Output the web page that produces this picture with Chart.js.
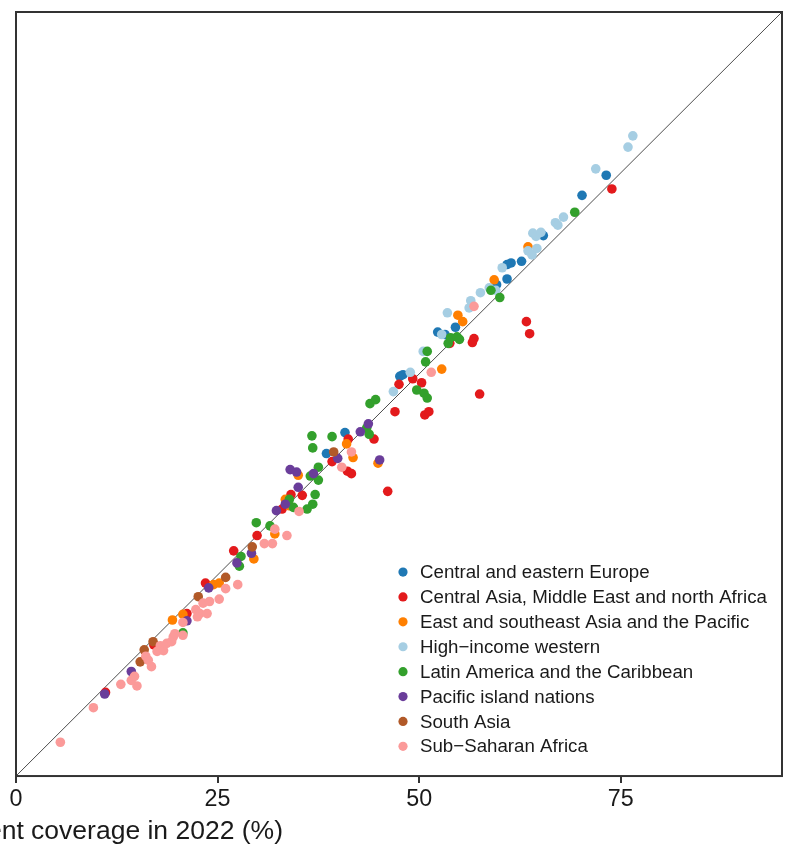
<!DOCTYPE html>
<html>
<head>
<meta charset="utf-8">
<style>
    html, body { margin: 0; padding: 0; background: #fff; }
    #wrap { position: relative; width: 800px; height: 847px; overflow: hidden; }
</style>
<script src="https://cdn.jsdelivr.net/npm/chart.js@4.4.1/dist/chart.umd.min.js"></script>
</head>
<body>
<div id="wrap"><canvas id="coverageChart" width="800" height="847"></canvas></div>
<script>
// Regions, colours, axis
const regionLabels = [
    'Central and eastern Europe',
    'Central Asia, Middle East and north Africa',
    'East and southeast Asia and the Pacific',
    'High\u2212income western',
    'Latin America and the Caribbean',
    'Pacific island nations',
    'South Asia',
    'Sub\u2212Saharan Africa'
];
const regionColors = ['#1f78b4', '#e31a1c', '#ff7f00', '#a6cee3', '#33a02c', '#6a3d9a', '#b15928', '#fb9a99'];
const xTicks  = [0, 25, 50, 75];
const axisMin = 0;
const axisMax = 95;
const xTitle  = 'Treatment coverage in 2022 (%)';

// [coverage 2022, coverage later] per country
const centralEasternEurope = [
    [38.5, 40.1], [40.8, 42.7], [47.6, 49.7], [48.0, 49.9], [52.3, 55.2], [53.2, 54.9], [54.5, 55.8],
    [59.6, 61.1], [60.9, 61.8], [60.9, 63.6], [61.4, 63.8], [62.7, 64.0], [65.4, 67.2], [70.2, 72.2], [73.2, 74.7]
];
const centralAsiaMena = [
    [11.1, 10.4], [17.1, 16.3], [21.2, 20.2], [23.5, 24.0], [27.0, 28.0], [29.9, 29.9], [33.0, 33.2],
    [34.1, 35.0], [35.5, 34.9], [39.2, 39.1], [41.2, 41.9], [41.1, 37.9], [41.6, 37.6], [44.4, 41.9],
    [46.1, 35.4], [47.0, 45.3], [47.5, 48.7], [49.2, 49.4], [50.3, 48.9], [50.7, 44.9], [51.2, 45.3],
    [53.8, 53.8], [56.8, 54.4], [56.6, 53.9], [57.5, 47.5], [63.3, 56.5], [63.7, 55.0], [73.9, 73.0]
];
const eastSoutheastAsia = [
    [19.4, 19.4], [20.7, 20.1], [24.5, 23.8], [25.2, 24.0], [29.5, 27.0], [32.1, 30.1], [33.4, 34.4],
    [33.9, 33.6], [35.0, 37.4], [41.0, 41.3], [41.8, 39.6], [44.9, 38.9], [52.8, 50.6], [54.8, 57.3],
    [55.4, 56.5], [59.3, 61.7], [63.5, 65.8]
];
const highIncomeWestern = [
    [46.8, 47.8], [48.9, 50.2], [50.5, 52.8], [52.8, 54.9], [53.5, 57.6], [56.2, 58.2], [56.4, 59.1],
    [57.6, 60.1], [58.7, 60.7], [59.5, 60.4], [60.3, 63.2], [63.5, 65.3], [64.0, 64.8], [64.6, 65.6],
    [64.1, 67.5], [64.5, 67.1], [65.1, 67.6], [66.9, 68.8], [67.2, 68.5], [67.9, 69.5], [71.9, 75.5],
    [75.9, 78.2], [76.5, 79.6]
];
const latinAmerica = [
    [20.7, 17.8], [27.7, 26.1], [27.9, 27.3], [29.8, 31.5], [31.5, 31.1], [33.9, 34.4], [34.4, 33.4],
    [36.1, 33.2], [36.8, 33.8], [37.1, 35.0], [36.5, 37.3], [37.5, 36.8], [37.5, 38.4], [36.7, 42.3],
    [36.8, 40.8], [39.2, 42.2], [43.5, 43.3], [43.8, 42.5], [43.9, 46.3], [44.6, 46.8], [49.7, 48.0],
    [50.6, 47.6], [51.0, 47.0], [50.8, 51.5], [51.0, 52.8], [53.6, 53.8], [53.9, 54.5], [54.7, 54.6],
    [55.0, 54.3], [58.9, 60.4], [60.0, 59.5], [69.3, 70.1]
];
const pacificIslands = [
    [11.0, 10.2], [14.3, 13.0], [21.2, 19.3], [23.9, 23.4], [27.4, 26.5], [29.2, 27.7], [32.3, 33.0],
    [33.4, 33.8], [34.0, 38.1], [34.8, 37.8], [35.0, 35.9], [36.9, 37.6], [39.9, 39.5], [42.7, 42.8],
    [43.7, 43.8], [45.1, 39.3]
];
const southAsia = [
    [15.4, 14.2], [15.9, 15.7], [17.0, 16.7], [22.6, 22.3], [26.0, 24.7], [29.3, 28.5], [39.4, 40.3]
];
const subSaharanAfrica = [
    [5.5, 4.2], [9.6, 8.5], [13.0, 11.4], [15.0, 11.2], [14.3, 11.9], [14.7, 12.4], [16.4, 14.4],
    [16.1, 14.9], [16.8, 13.6], [17.5, 15.5], [17.9, 16.2], [18.3, 15.6], [18.7, 16.5], [19.3, 16.7],
    [19.5, 17.3], [19.7, 17.7], [20.7, 17.5], [20.7, 19.1], [22.3, 20.7], [22.8, 20.2], [22.5, 19.8],
    [23.7, 20.2], [23.2, 21.5], [24.0, 21.7], [25.2, 22.0], [26.0, 23.3], [27.5, 23.8], [30.8, 28.9],
    [31.8, 28.9], [32.1, 30.7], [33.6, 29.9], [35.1, 32.9], [40.4, 38.4], [41.6, 40.3], [51.5, 50.2],
    [56.8, 58.4]
];

const regionSeries = [
    centralEasternEurope, centralAsiaMena, eastSoutheastAsia, highIncomeWestern,
    latinAmerica, pacificIslands, southAsia, subSaharanAfrica
];

const fontFamily = '"Liberation Sans", Arial, Helvetica, sans-serif';
const textColor  = '#1a1a1a';
const frameColor = '#333333';

//Datasets
const datasets = regionSeries.map((pts, i) => ({
    type: 'scatter',
    label: regionLabels[i],
    data: pts.map(p => ({ x: p[0], y: p[1] })),
    backgroundColor: regionColors[i],
    borderWidth: 0,
    pointRadius: 4.8,
    pointHoverRadius: 4.8,
    order: regionSeries.length - i
}));

// 45 degree reference line
datasets.push({
    type: 'line',
    label: 'diagonal',
    data: [{ x: axisMin, y: axisMin }, { x: axisMax, y: axisMax }],
    borderColor: '#4d4d4d',
    borderWidth: 1,
    pointRadius: 0,
    fill: false,
    order: 99
});

//Panel frame, legend and cut-off axis title
const decorPlugin = {
    id: 'decor',
    afterDraw(chart) {
        const { ctx, chartArea } = chart;
        ctx.save();
        ctx.strokeStyle = frameColor;
        ctx.lineWidth = 2;
        ctx.strokeRect(chartArea.left, chartArea.top, chartArea.right - chartArea.left, chartArea.bottom - chartArea.top);

        // legend
        const dotX  = chartArea.left + 387;
        const textX = chartArea.left + 404;
        const firstY = chartArea.bottom - 204;
        const step  = 24.9;
        ctx.font = `18.7px ${fontFamily}`;
        ctx.textBaseline = 'middle';
        ctx.textAlign = 'left';
        regionLabels.forEach((label, i) => {
            const y = firstY + i * step;
            ctx.fillStyle = regionColors[i];
            ctx.beginPath();
            ctx.arc(dotX, y, 4.6, 0, Math.PI * 2);
            ctx.fill();
            ctx.fillStyle = textColor;
            ctx.fillText(label, textX, y + 1);
        });

        // x axis title, left part runs off the canvas
        ctx.font = `26.5px ${fontFamily}`;
        ctx.textAlign = 'right';
        ctx.textBaseline = 'alphabetic';
        ctx.fillText(xTitle, chartArea.left + 267, chartArea.bottom + 63);
        ctx.restore();
    }
};

const ctx = document.getElementById('coverageChart').getContext('2d');
new Chart(ctx, {
    type: 'scatter',
    data: { datasets },
    options: {
        responsive: false,
        animation: false,
        devicePixelRatio: 1,
        layout: { padding: { left: 16, right: 18, top: 12, bottom: 30 } },
        plugins: {
            legend: { display: false },
            tooltip: { enabled: false },
            title: { display: false }
        },
        scales: {
            x: {
                type: 'linear',
                min: axisMin,
                max: axisMax,
                afterBuildTicks: (scale) => { scale.ticks = xTicks.map(v => ({ value: v })); },
                border: { display: false },
                grid: {
                    display: true,
                    drawOnChartArea: false,
                    drawTicks: true,
                    tickLength: 7,
                    color: frameColor,
                    lineWidth: 2
                },
                ticks: {
                    color: textColor,
                    padding: 3,
                    maxRotation: 0,
                    font: { family: fontFamily, size: 23.3 }
                }
            },
            y: {
                type: 'linear',
                min: axisMin,
                max: axisMax,
                display: false
            }
        }
    },
    plugins: [decorPlugin]
});
</script>
</body>
</html>
